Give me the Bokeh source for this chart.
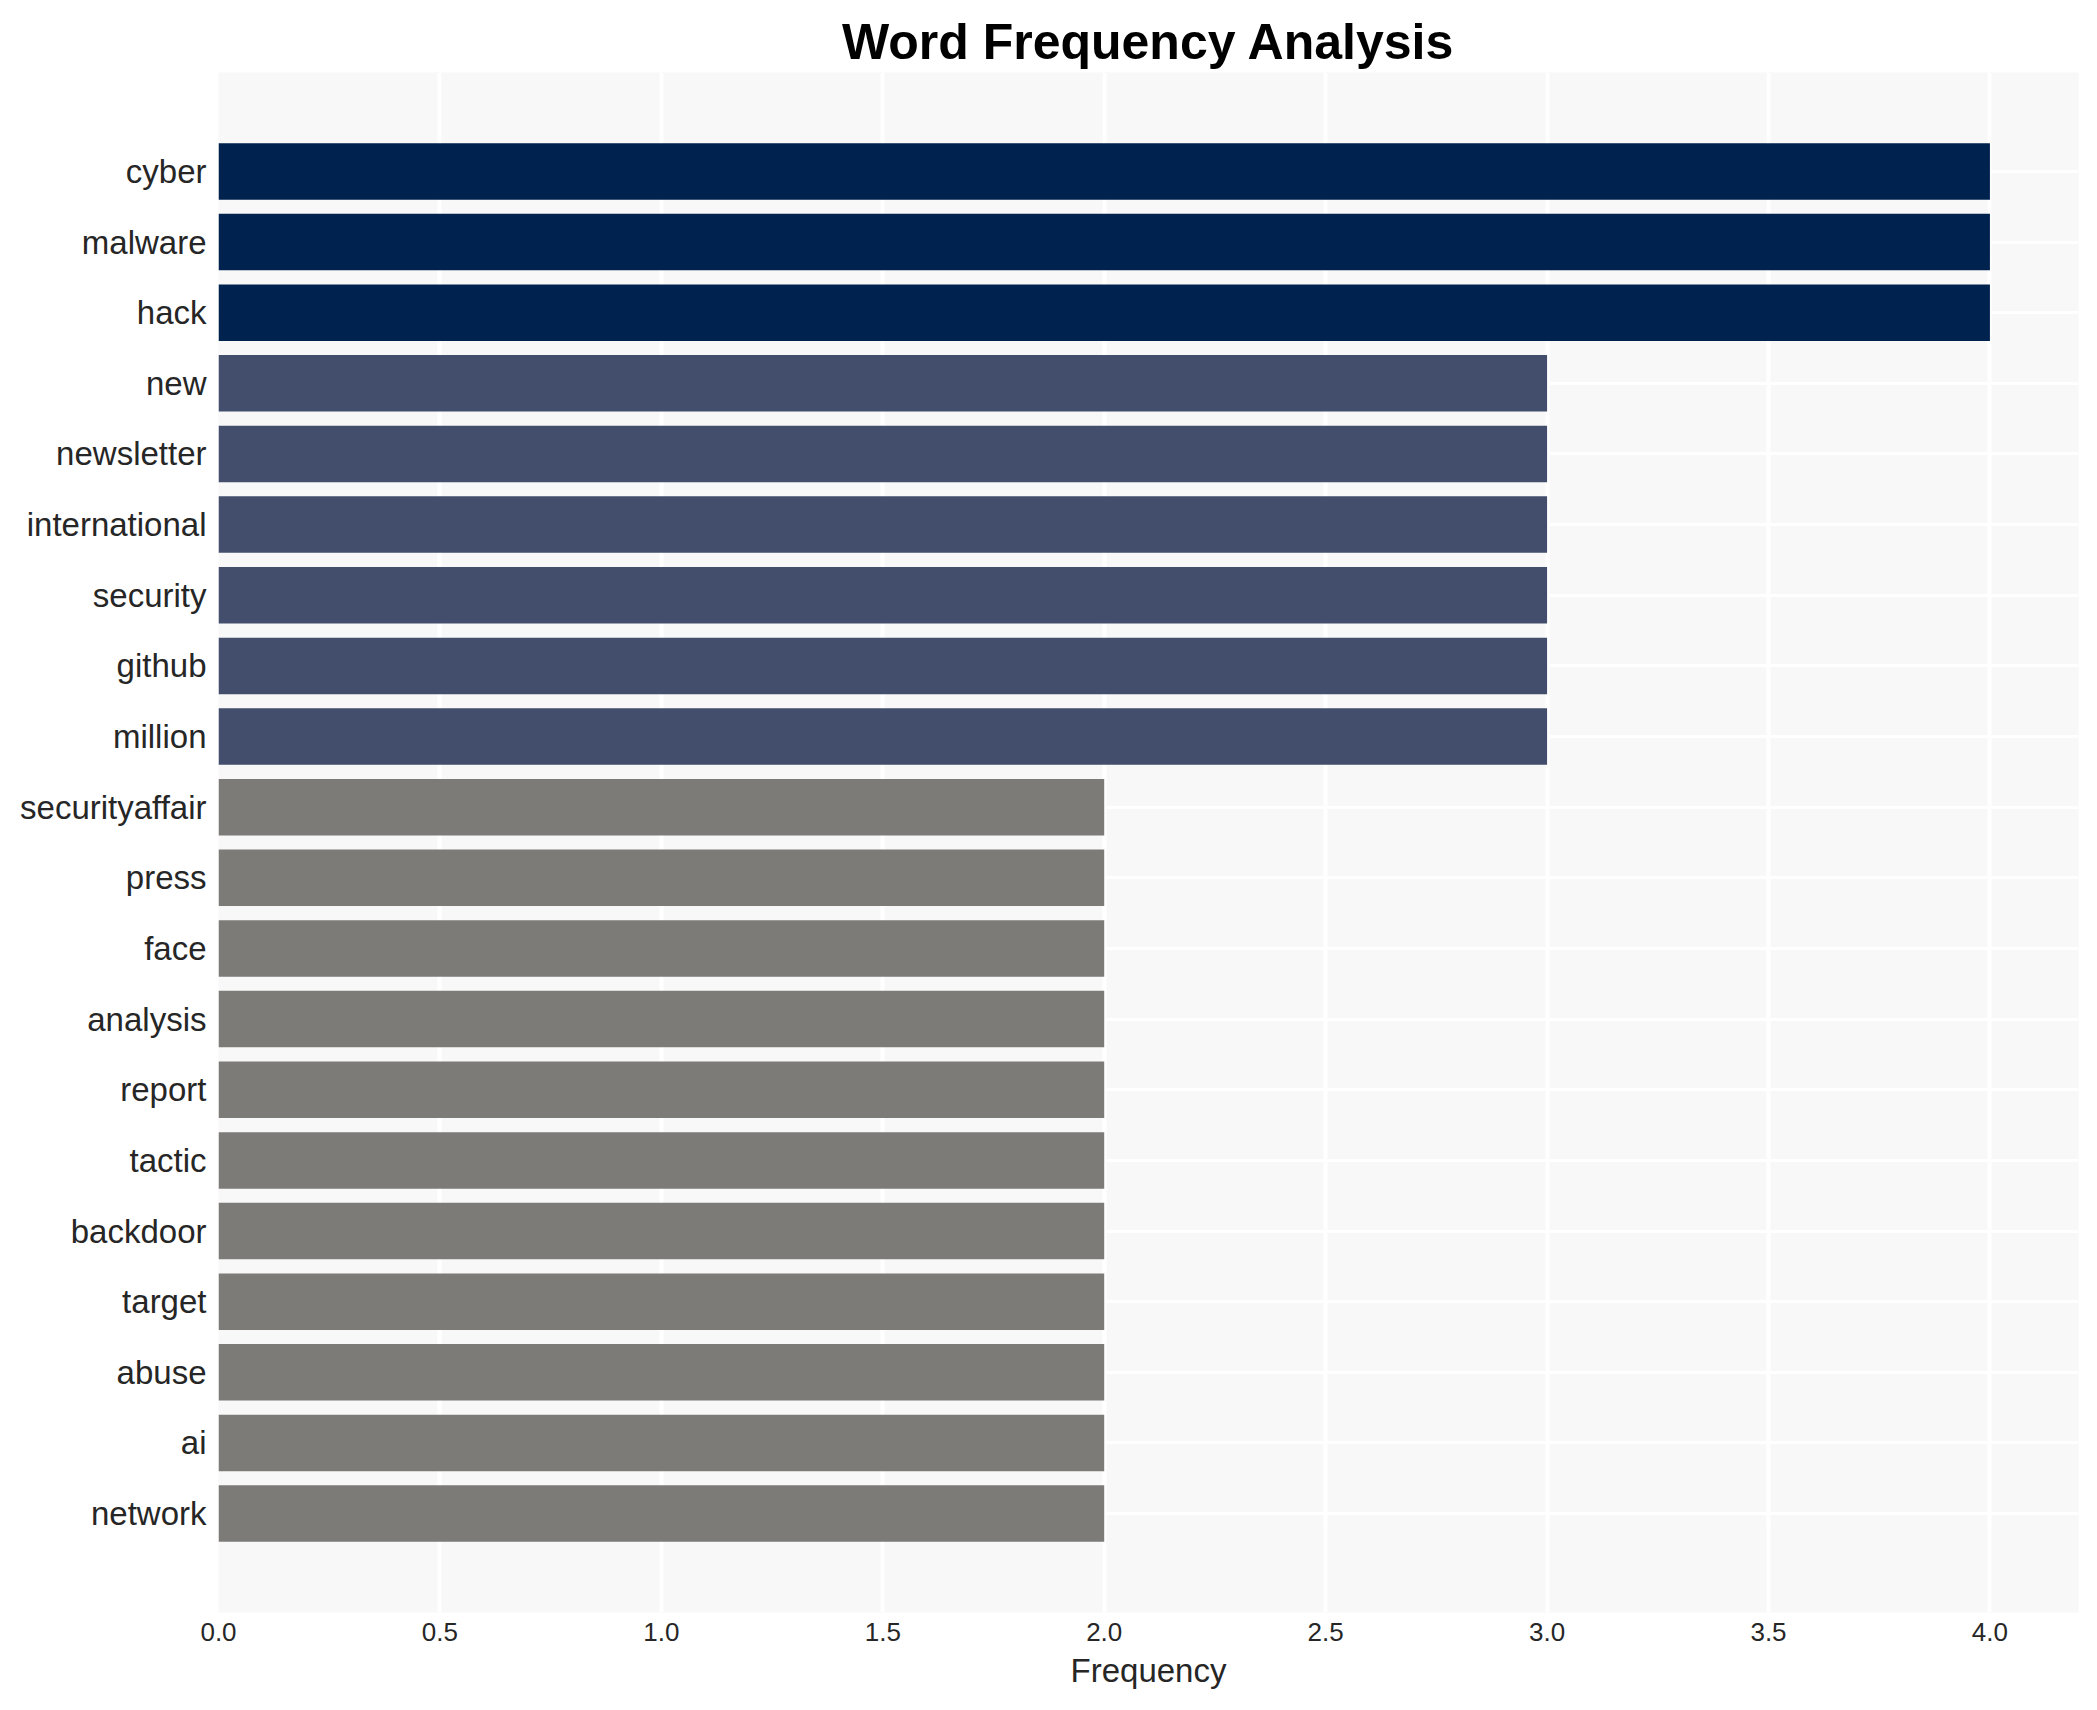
from bokeh.plotting import figure
from bokeh.models import ColumnDataSource, FixedTicker, PrintfTickFormatter, Range1d
from bokeh.embed import file_html
from bokeh.resources import INLINE

words = ["cyber", "malware", "hack", "new", "newsletter", "international",
         "security", "github", "million", "securityaffair", "press", "face",
         "analysis", "report", "tactic", "backdoor", "target", "abuse", "ai",
         "network"]
counts = [4, 4, 4, 3, 3, 3, 3, 3, 3, 2, 2, 2, 2, 2, 2, 2, 2, 2, 2, 2]
color_by_count = {4: "#00224e", 3: "#434e6c", 2: "#7c7b78"}
x_ticks = [0.0, 0.5, 1.0, 1.5, 2.0, 2.5, 3.0, 3.5, 4.0]

colors = [color_by_count[c] for c in counts]
src = ColumnDataSource(dict(word=words, count=counts, color=colors))

FONT = "Liberation Sans"
TXT = "#262626"

p = figure(
    y_range=list(reversed(words)),
    x_range=Range1d(0, 4.2),
    frame_width=1860, frame_height=1540,
    min_border_left=218, min_border_right=11,
    min_border_top=72, min_border_bottom=90,
    output_backend="svg", toolbar_location=None,
    title="Word Frequency Analysis",
)
p.y_range.range_padding = 0.9
p.y_range.range_padding_units = "absolute"

p.hbar(y="word", right="count", left=0, height=0.8, color="color",
       line_color=None, source=src)

p.background_fill_color = "#f8f8f8"
p.border_fill_color = "white"
p.outline_line_color = None

p.title.text_font = FONT
p.title.text_font_size = "50px"
p.title.text_font_style = "bold"
p.title.text_color = "black"
p.title.align = "center"
p.title.offset = 0
p.title.standoff = 6

p.xgrid.grid_line_color = "white"
p.xgrid.grid_line_width = 4
p.ygrid.grid_line_color = "white"
p.ygrid.grid_line_width = 3

p.xaxis.ticker = FixedTicker(ticks=x_ticks)
p.xaxis.formatter = PrintfTickFormatter(format="%.1f")
p.xaxis.axis_label = "Frequency"
p.xaxis.axis_label_text_font = FONT
p.xaxis.axis_label_text_font_size = "33px"
p.xaxis.axis_label_text_font_style = "normal"
p.xaxis.axis_label_text_color = TXT
p.xaxis.axis_label_standoff = 8
p.xaxis.major_label_text_font = FONT
p.xaxis.major_label_text_font_size = "26px"
p.xaxis.major_label_text_color = TXT
p.xaxis.major_label_standoff = 4

p.yaxis.major_label_text_font = FONT
p.yaxis.major_label_text_font_size = "33px"
p.yaxis.major_label_text_color = TXT
p.yaxis.major_label_standoff = 6

for ax in (p.xaxis, p.yaxis):
    ax.axis_line_color = None
    ax.major_tick_line_color = None
    ax.minor_tick_line_color = None

open("out.html", "w").write(file_html(p, INLINE))
